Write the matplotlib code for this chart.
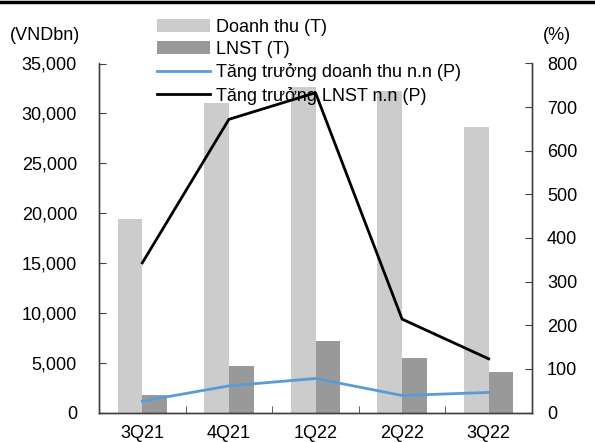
import matplotlib
matplotlib.use("Agg")
import matplotlib.pyplot as plt
import numpy as np
from matplotlib.lines import Line2D

plt.rcParams['font.family'] = ['Liberation Sans', 'DejaVu Sans']

quarters = ["3Q21", "4Q21", "1Q22", "2Q22", "3Q22"]
revenue = [19400, 31000, 32600, 32200, 28600]          # VNDbn
profit = [1800, 4700, 7150, 5500, 4100]                # VNDbn
revenue_growth = [26, 61, 78, 39, 46]                  # %
profit_growth = [343, 672, 733, 214, 123]              # %

left_ticks = [0, 5000, 10000, 15000, 20000, 25000, 30000, 35000]
right_ticks = [0, 100, 200, 300, 400, 500, 600, 700, 800]

fs = 13
fig = plt.figure(figsize=(5.95, 4.42), dpi=100)
ax = fig.add_axes([99/595, 1 - 412.5/442, (532 - 99)/595, (412.5 - 63.5)/442])
ax2 = ax.twinx()

x = np.arange(len(quarters))
w = 0.286
ax.bar(x - w/2, revenue, width=w, color="#cccccc", label="Doanh thu (T)")
ax.bar(x + w/2, profit, width=w, color="#999999", label="LNST (T)")
ax2.plot(x, revenue_growth, color="#5b9bd5", lw=2, label="Tăng trưởng doanh thu n.n (P)")
ax2.plot(x, profit_growth, color="black", lw=2, label="Tăng trưởng LNST n.n (P)")

ax.set_xlim(-0.5, len(quarters) - 0.5)
ax.set_ylim(0, 35000)
ax2.set_ylim(0, 800)
ax.set_yticks(left_ticks)
ax.set_yticklabels([f"{v:,}" for v in left_ticks], fontsize=fs)
ax2.set_yticks(right_ticks)
ax2.set_yticklabels([str(v) for v in right_ticks], fontsize=fs)

ax.set_xticks(x)
ax.set_xticklabels(quarters, fontsize=fs)
ax.set_xticks(np.arange(0.5, len(quarters) - 0.5), minor=True)
ax.tick_params(axis="x", which="major", length=0, pad=9)
ax.tick_params(axis="x", which="minor", direction="in", length=5, color="#404040")
ax.tick_params(axis="y", direction="in", length=5, color="#404040", pad=15.8)
ax2.tick_params(axis="y", direction="in", length=5, color="#404040", pad=10.8)

for a in (ax, ax2):
    a.spines["top"].set_visible(False)
    for s in ("left", "right", "bottom"):
        a.spines[s].set_color("#404040")
        a.spines[s].set_linewidth(1)

fig.text(10/595, 1 - 35/442, "(VNDbn)", fontsize=fs, va="center", ha="left")
fig.text(543/595, 1 - 36/442, "(%)", fontsize=fs, va="center", ha="left")

# Heavy rule along the top edge
fig.add_artist(Line2D([0, 1], [1 - 1.5/442, 1 - 1.5/442], color="black", lw=2.5,
                      transform=fig.transFigure))

h1, l1 = ax.get_legend_handles_labels()
h2, l2 = ax2.get_legend_handles_labels()
fig.legend(h1 + h2, l1 + l2, loc="upper left", bbox_to_anchor=(157/595, 1 - 18.5/442),
           frameon=False, fontsize=fs, handlelength=2.93, handletextpad=0.32,
           labelspacing=0.3, borderpad=0, borderaxespad=0)

fig.savefig("out.png", dpi=100)
